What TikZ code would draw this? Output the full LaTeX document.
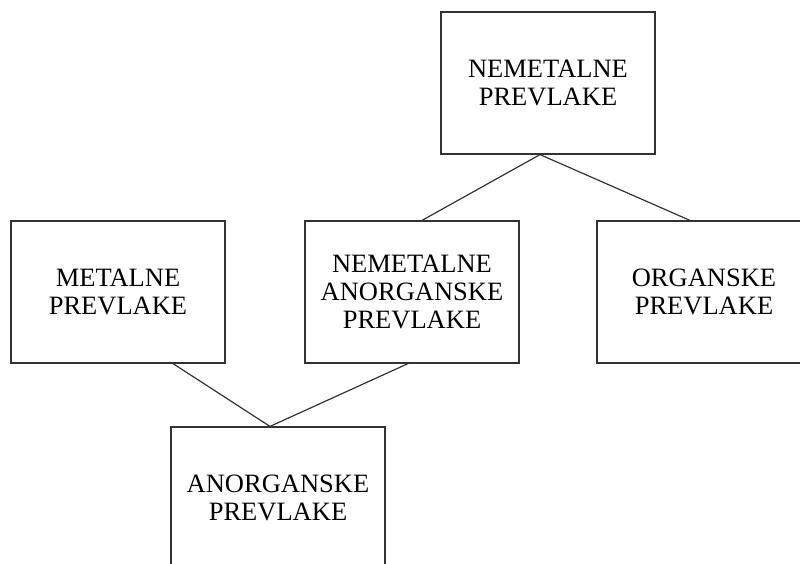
\documentclass[tikz,border=0pt]{standalone}
\usepackage{fontspec}
\setmainfont{Liberation Serif}
\begin{document}
\begin{tikzpicture}[x=1pt,y=-1pt,
  box/.style={draw=black!80, line width=1.2pt, fill=white, minimum width=214pt, minimum height=142pt,
    inner sep=0pt, align=center, font=\fontsize{26.5}{28}\selectfont},
  link/.style={draw=black!80, line width=1.2pt}]
\useasboundingbox (0,0) rectangle (800,563);
\clip (0,0) rectangle (800,563);
\node[box] (top) at (548,83) {NEMETALNE\\PREVLAKE};
\node[box] (met) at (118,292) {METALNE\\PREVLAKE};
\node[box] (nan) at (412,292) {NEMETALNE\\ANORGANSKE\\PREVLAKE};
\node[box] (org) at (704,292) {ORGANSKE\\PREVLAKE};
\node[box] (ano) at (278,498) {ANORGANSKE\\PREVLAKE};
\draw[link] ([xshift=-8pt]top.south) -- ([xshift=10pt]nan.north);
\draw[link] ([xshift=-8pt]top.south) -- ([xshift=-14pt]org.north);
\draw[link] ([xshift=55pt]met.south) -- ([xshift=-8pt]ano.north);
\draw[link] ([xshift=-4pt]nan.south) -- ([xshift=-8pt]ano.north);
\end{tikzpicture}
\end{document}
